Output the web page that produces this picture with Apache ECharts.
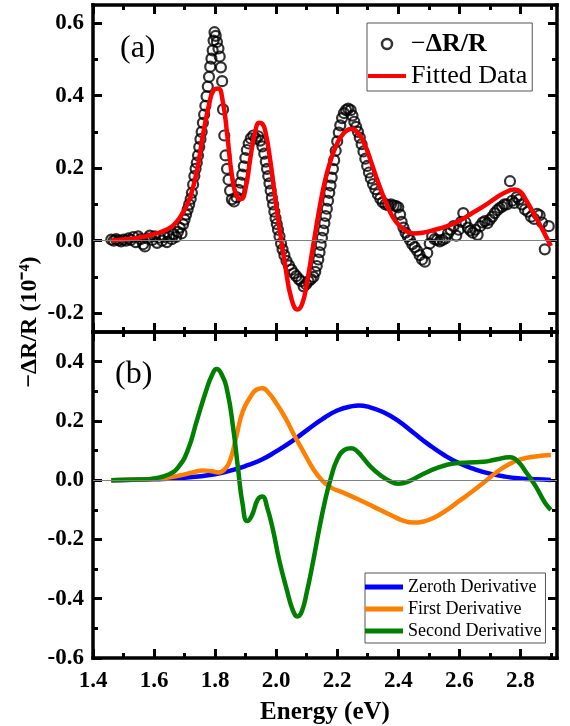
<!DOCTYPE html>
<html>
<head>
<meta charset="utf-8">
<script src="https://cdn.jsdelivr.net/npm/echarts@6/dist/echarts.min.js"></script>
<style>
html, body {margin: 0; padding: 0; background: #fff;}
#chart {width: 570px; height: 726px;}
</style>
</head>
<body>
<div id="chart"></div>
<script>
const FONT = 'Liberation Serif';

//  tick labels
const xMajor = [1.4, 1.6, 1.8, 2.0, 2.2, 2.4, 2.6, 2.8];
const xMinor = [1.5, 1.7, 1.9, 2.1, 2.3, 2.5, 2.7, 2.9];
const yTopMajor = [-0.2, 0, 0.2, 0.4, 0.6];
const yTopMinor = [-0.1, 0.1, 0.3, 0.5];
const yBotMajor = [-0.6, -0.4, -0.2, 0, 0.2, 0.4];
const yBotMinor = [-0.5, -0.3, -0.1, 0.1, 0.3];

//  (a) measured -dR/R
const dataE = [1.460, 1.468, 1.476, 1.484, 1.492, 1.500, 1.508, 1.516, 1.524, 1.532, 1.540, 1.548, 1.556, 1.564, 1.570, 1.578, 1.586, 1.594, 1.602, 1.610,
    1.618, 1.626, 1.634, 1.642, 1.650, 1.658, 1.664, 1.672, 1.678, 1.684, 1.690, 1.695, 1.700, 1.705, 1.710, 1.715, 1.720, 1.724, 1.728, 1.732,
    1.736, 1.740, 1.744, 1.748, 1.752, 1.756, 1.760, 1.764, 1.768, 1.772, 1.776, 1.780, 1.784, 1.788, 1.792, 1.795, 1.798, 1.802, 1.806, 1.811,
    1.815, 1.819, 1.823, 1.826, 1.830, 1.834, 1.839, 1.844, 1.849, 1.855, 1.862, 1.870, 1.877, 1.883, 1.889, 1.894, 1.899, 1.904, 1.910, 1.917,
    1.925, 1.933, 1.941, 1.948, 1.955, 1.961, 1.966, 1.970, 1.974, 1.978, 1.982, 1.986, 1.990, 1.994, 1.998, 2.002, 2.006, 2.011, 2.016, 2.021,
    2.027, 2.034, 2.042, 2.050, 2.058, 2.066, 2.074, 2.082, 2.090, 2.098, 2.106, 2.114, 2.122, 2.128, 2.133, 2.138, 2.142, 2.146, 2.150, 2.154,
    2.158, 2.162, 2.166, 2.170, 2.174, 2.178, 2.182, 2.186, 2.190, 2.195, 2.200, 2.205, 2.210, 2.216, 2.222, 2.229, 2.236, 2.244, 2.250, 2.256,
    2.262, 2.268, 2.274, 2.280, 2.286, 2.292, 2.298, 2.304, 2.310, 2.317, 2.325, 2.333, 2.341, 2.349, 2.358, 2.367, 2.376, 2.385, 2.393, 2.400,
    2.406, 2.411, 2.417, 2.424, 2.431, 2.438, 2.446, 2.454, 2.462, 2.470, 2.478, 2.487, 2.495, 2.503, 2.511, 2.519, 2.527, 2.536, 2.545, 2.554,
    2.563, 2.572, 2.581, 2.590, 2.598, 2.606, 2.613, 2.620, 2.628, 2.636, 2.644, 2.652, 2.660, 2.668, 2.676, 2.684, 2.692, 2.700, 2.708, 2.716,
    2.724, 2.732, 2.740, 2.748, 2.756, 2.766, 2.773, 2.780, 2.788, 2.796, 2.805, 2.815, 2.825, 2.835, 2.845, 2.855, 2.863, 2.871, 2.880, 2.893];
const dataV = [0.003, 0.000, 0.004, 0.001, -0.002, 0.003, 0.000, 0.006, 0.002, 0.010, -0.004, 0.012, 0.004, -0.010, -0.016, 0.006, 0.014, 0.002, 0.012, -0.006,
    0.008, 0.000, 0.010, -0.004, 0.012, 0.004, 0.018, 0.010, 0.024, 0.036, 0.020, 0.045, 0.058, 0.072, 0.086, 0.100, 0.115, 0.132, 0.155, 0.178,
    0.198, 0.215, 0.235, 0.258, 0.280, 0.300, 0.325, 0.348, 0.372, 0.398, 0.425, 0.452, 0.480, 0.502, 0.525, 0.552, 0.575, 0.565, 0.548, 0.530,
    0.508, 0.478, 0.440, 0.362, 0.290, 0.235, 0.198, 0.168, 0.138, 0.114, 0.108, 0.120, 0.140, 0.160, 0.182, 0.205, 0.228, 0.250, 0.268, 0.282,
    0.290, 0.282, 0.288, 0.276, 0.260, 0.240, 0.218, 0.198, 0.178, 0.158, 0.138, 0.118, 0.100, 0.080, 0.062, 0.046, 0.030, 0.012, -0.008, -0.024,
    -0.040, -0.056, -0.068, -0.080, -0.090, -0.098, -0.106, -0.112, -0.126, -0.120, -0.112, -0.106, -0.100, -0.086, -0.070, -0.052, -0.032, -0.012, 0.008, 0.028,
    0.048, 0.068, 0.088, 0.110, 0.132, 0.152, 0.174, 0.198, 0.222, 0.248, 0.274, 0.298, 0.318, 0.338, 0.352, 0.360, 0.364, 0.360, 0.345, 0.328,
    0.314, 0.300, 0.284, 0.266, 0.246, 0.226, 0.206, 0.188, 0.172, 0.156, 0.142, 0.128, 0.116, 0.106, 0.100, 0.098, 0.100, 0.097, 0.095, 0.092,
    0.072, 0.052, 0.036, 0.022, 0.012, 0.002, -0.010, -0.018, -0.028, -0.040, -0.052, -0.058, -0.034, -0.008, 0.012, 0.004, 0.002, -0.002, 0.002, 0.006,
    0.020, 0.030, 0.040, 0.014, 0.030, 0.052, 0.076, 0.050, 0.036, 0.028, 0.022, 0.030, 0.016, 0.040, 0.050, 0.054, 0.048, 0.058, 0.066, 0.076,
    0.084, 0.090, 0.094, 0.100, 0.100, 0.164, 0.110, 0.104, 0.120, 0.114, 0.100, 0.086, 0.080, 0.066, 0.060, 0.074, 0.070, 0.050, -0.024, 0.040];

//  (a) fitted curve
const fitE = [1.46, 1.50, 1.55, 1.60, 1.64, 1.67, 1.70, 1.72, 1.74, 1.76, 1.78, 1.795, 1.81, 1.825, 1.84, 1.855, 1.87, 1.885, 1.90, 1.915,
    1.93, 1.945, 1.955, 1.965, 1.98, 1.995, 2.01, 2.03, 2.05, 2.07, 2.085, 2.10, 2.12, 2.14, 2.16, 2.18, 2.20, 2.22, 2.245, 2.27,
    2.29, 2.31, 2.33, 2.35, 2.37, 2.39, 2.42, 2.45, 2.48, 2.52, 2.56, 2.60, 2.64, 2.68, 2.72, 2.75, 2.78, 2.80, 2.82, 2.84,
    2.86, 2.88, 2.90];
const fitV = [0.000, 0.003, 0.008, 0.018, 0.030, 0.048, 0.085, 0.125, 0.190, 0.290, 0.375, 0.415, 0.420, 0.385, 0.290, 0.180, 0.125, 0.115, 0.145, 0.225,
    0.295, 0.325, 0.322, 0.300, 0.225, 0.130, 0.040, -0.070, -0.160, -0.190, -0.175, -0.120, -0.020, 0.080, 0.165, 0.225, 0.268, 0.295, 0.308, 0.295,
    0.265, 0.220, 0.170, 0.125, 0.085, 0.055, 0.030, 0.020, 0.022, 0.030, 0.040, 0.055, 0.075, 0.095, 0.118, 0.133, 0.141, 0.135, 0.110, 0.080,
    0.050, 0.018, -0.015];

//  (b) derivative components
const zeroE = [1.46, 1.60, 1.70, 1.80, 1.85, 1.90, 1.95, 2.00, 2.05, 2.10, 2.15, 2.20, 2.25, 2.27, 2.30, 2.35, 2.40, 2.45, 2.50, 2.55,
    2.60, 2.65, 2.70, 2.75, 2.80, 2.85, 2.90];
const zeroV = [0.000, 0.003, 0.008, 0.020, 0.032, 0.048, 0.068, 0.097, 0.130, 0.168, 0.205, 0.235, 0.250, 0.252, 0.248, 0.230, 0.200, 0.160, 0.120, 0.085,
    0.057, 0.037, 0.022, 0.012, 0.006, 0.003, 0.001];

const firstE = [1.46, 1.55, 1.62, 1.68, 1.73, 1.76, 1.79, 1.81, 1.83, 1.85, 1.87, 1.89, 1.915, 1.935, 1.955, 1.975, 2.00, 2.03, 2.06, 2.09,
    2.12, 2.15, 2.18, 2.22, 2.27, 2.32, 2.38, 2.42, 2.45, 2.48, 2.52, 2.56, 2.60, 2.64, 2.68, 2.72, 2.76, 2.80, 2.85, 2.90];
const firstV = [0.000, 0.002, 0.005, 0.015, 0.027, 0.033, 0.030, 0.026, 0.035, 0.070, 0.150, 0.230, 0.280, 0.305, 0.310, 0.295, 0.260, 0.210, 0.150, 0.095,
    0.040, 0.000, -0.025, -0.042, -0.065, -0.090, -0.120, -0.138, -0.143, -0.140, -0.125, -0.100, -0.070, -0.040, -0.008, 0.025, 0.052, 0.070, 0.080, 0.085];

const secondE = [1.46, 1.55, 1.60, 1.65, 1.68, 1.71, 1.74, 1.77, 1.79, 1.805, 1.82, 1.84, 1.86, 1.875, 1.89, 1.905, 1.92, 1.94, 1.955, 1.97,
    1.99, 2.01, 2.035, 2.055, 2.07, 2.085, 2.10, 2.12, 2.14, 2.16, 2.18, 2.20, 2.225, 2.245, 2.265, 2.285, 2.31, 2.34, 2.37, 2.40,
    2.43, 2.48, 2.53, 2.58, 2.63, 2.68, 2.72, 2.765, 2.79, 2.82, 2.85, 2.88, 2.90];
const secondV = [0.000, 0.002, 0.006, 0.020, 0.045, 0.100, 0.200, 0.300, 0.355, 0.375, 0.360, 0.300, 0.170, 0.040, -0.080, -0.138, -0.120, -0.065, -0.055, -0.090,
    -0.170, -0.270, -0.370, -0.440, -0.460, -0.440, -0.380, -0.280, -0.170, -0.070, 0.010, 0.070, 0.103, 0.108, 0.098, 0.075, 0.045, 0.018, -0.002, -0.012,
    -0.006, 0.020, 0.042, 0.056, 0.060, 0.062, 0.070, 0.077, 0.065, 0.025, -0.020, -0.075, -0.100];

const pairs = (xs, ys) => xs.map((x, i) => [x, ys[i]]);

const labelStyle = {color: '#000', fontFamily: FONT, fontWeight: 'bold', fontSize: 23};

//  one axis side = a major axis (line, long ticks, labels) + a minor axis (short ticks only)
function xAxes(grid, pos, labels) {
    const base = {type: 'value', gridIndex: grid, position: pos, min: 1.4, max: 2.92, splitLine: {show: false}};
    return [
        Object.assign({}, base, {
            axisLine: {onZero: false, lineStyle: {color: '#000', width: 3.5, cap: 'square'}},
            axisTick: {inside: true, length: 9, customValues: xMajor, lineStyle: {color: '#000', width: 3}},
            axisLabel: Object.assign({show: labels, customValues: xMajor, margin: 12, formatter: v => v.toFixed(1)}, labelStyle),
            name: labels ? 'Energy (eV)' : '',
            nameLocation: 'middle',
            nameGap: 42,
            nameTextStyle: {color: '#000', fontFamily: FONT, fontWeight: 'bold', fontSize: 25},
        }),
        Object.assign({}, base, {
            axisLine: {show: false, onZero: false},
            axisTick: {inside: true, length: 5, customValues: xMinor, lineStyle: {color: '#000', width: 3}},
            axisLabel: {show: false},
        }),
    ];
}

function yAxes(grid, pos, min, max, major, minor, labels) {
    const base = {type: 'value', gridIndex: grid, position: pos, min: min, max: max, splitLine: {show: false}};
    return [
        Object.assign({}, base, {
            axisLine: {onZero: false, lineStyle: {color: '#000', width: 3.5, cap: 'square'}},
            axisTick: {inside: true, length: 9, customValues: major, lineStyle: {color: '#000', width: 3}},
            axisLabel: Object.assign({show: labels, customValues: major, margin: 9, formatter: v => v.toFixed(1)}, labelStyle),
        }),
        Object.assign({}, base, {
            axisLine: {show: false, onZero: false},
            axisTick: {inside: true, length: 5, customValues: minor, lineStyle: {color: '#000', width: 3}},
            axisLabel: {show: false},
        }),
    ];
}

const zeroLine = {
    silent: true,
    symbol: 'none',
    label: {show: false},
    lineStyle: {color: '#808080', width: 1, type: 'solid'},
    data: [{yAxis: 0}],
};

function curve(name, xs, ys, color) {
    return {
        name: name,
        type: 'line',
        xAxisIndex: 4,
        yAxisIndex: 4,
        data: pairs(xs, ys),
        smooth: true,
        showSymbol: false,
        lineStyle: {color: color, width: 4.5},
        itemStyle: {color: color},
        z: 3,
    };
}

const linePath = 'path://M0,0H38V5H0Z';

const option = {
    animation: false,
    grid: [
        {left: 93, top: 5, width: 464, height: 327},
        {left: 93, top: 332, width: 464, height: 326},
    ],
    xAxis: [].concat(
        xAxes(0, 'bottom', false), xAxes(0, 'top', false),
        xAxes(1, 'bottom', true), xAxes(1, 'top', false)
    ),
    yAxis: [].concat(
        yAxes(0, 'left', -0.252, 0.65, yTopMajor, yTopMinor, true),
        yAxes(0, 'right', -0.252, 0.65, yTopMajor, yTopMinor, false),
        yAxes(1, 'left', -0.6, 0.5, yBotMajor, yBotMinor, true),
        yAxes(1, 'right', -0.6, 0.5, yBotMajor, yBotMinor, false)
    ),
    legend: [
        {
            left: 367,
            top: 23,
            orient: 'vertical',
            selectedMode: false,
            padding: [8, 5, 2, 1],
            itemGap: 6,
            itemWidth: 38,
            itemHeight: 10,
            borderColor: '#555',
            borderWidth: 1,
            borderRadius: 0,
            data: [
                {name: '−ΔR/R', icon: 'circle', itemStyle: {color: 'rgba(0,0,0,0)', borderColor: '#000', borderWidth: 2.5}},
                {name: 'Fitted Data', icon: 'path://M0,0H38V4H0Z', itemStyle: {color: '#ff0000', borderWidth: 0}},
            ],
            formatter: function (name) {
                return name === '−ΔR/R' ? '{m|−}{b|ΔR/R}' : '{m|' + name + '}';
            },
            textStyle: {
                color: '#000', fontFamily: FONT, fontSize: 26,
                rich: {
                    m: {color: '#000', fontFamily: FONT, fontSize: 26},
                    b: {color: '#000', fontFamily: FONT, fontSize: 26, fontWeight: 'bold'},
                },
            },
        },
        {
            left: 365,
            top: 573,
            orient: 'vertical',
            selectedMode: false,
            padding: [5, 4, 3, 0],
            itemGap: 4,
            itemWidth: 38,
            itemHeight: 6,
            borderColor: '#555',
            borderWidth: 1,
            borderRadius: 0,
            data: [
                {name: 'Zeroth Derivative', icon: linePath, itemStyle: {color: '#0000ff', borderWidth: 0}},
                {name: 'First Derivative', icon: linePath, itemStyle: {color: '#ff8000', borderWidth: 0}},
                {name: 'Second Derivative', icon: linePath, itemStyle: {color: '#008000', borderWidth: 0}},
            ],
            textStyle: {color: '#000', fontFamily: FONT, fontSize: 18},
        },
    ],
    graphic: [
        {type: 'text', left: 120, top: 33, style: {text: '(a)', fontFamily: FONT, fontSize: 32, fill: '#000'}},
        {type: 'text', left: 115, top: 359, style: {text: '(b)', fontFamily: FONT, fontSize: 32, fill: '#000'}},
        {
            type: 'text', x: 30, y: 322, rotation: Math.PI / 2,
            style: {text: '−ΔR/R (10⁻⁴)', fontFamily: FONT, fontSize: 24, fontWeight: 'bold', fill: '#000', align: 'center', verticalAlign: 'middle'},
        },
    ],
    series: [
        {
            name: '−ΔR/R',
            type: 'scatter',
            xAxisIndex: 0,
            yAxisIndex: 0,
            data: pairs(dataE, dataV),
            symbol: 'circle',
            symbolSize: 10,
            itemStyle: {color: 'rgba(0,0,0,0)', borderColor: '#000', borderWidth: 2.2},
            markLine: zeroLine,
            z: 2,
        },
        {
            name: 'Fitted Data',
            type: 'line',
            xAxisIndex: 0,
            yAxisIndex: 0,
            data: pairs(fitE, fitV),
            smooth: true,
            showSymbol: false,
            lineStyle: {color: '#ff0000', width: 4.5},
            itemStyle: {color: '#ff0000'},
            z: 3,
        },
        Object.assign(curve('Zeroth Derivative', zeroE, zeroV, '#0000ff'), {markLine: zeroLine}),
        curve('First Derivative', firstE, firstV, '#ff8000'),
        curve('Second Derivative', secondE, secondV, '#008000'),
    ],
};

const myChart = echarts.init(document.getElementById('chart'));
myChart.setOption(option);
</script>
</body>
</html>
